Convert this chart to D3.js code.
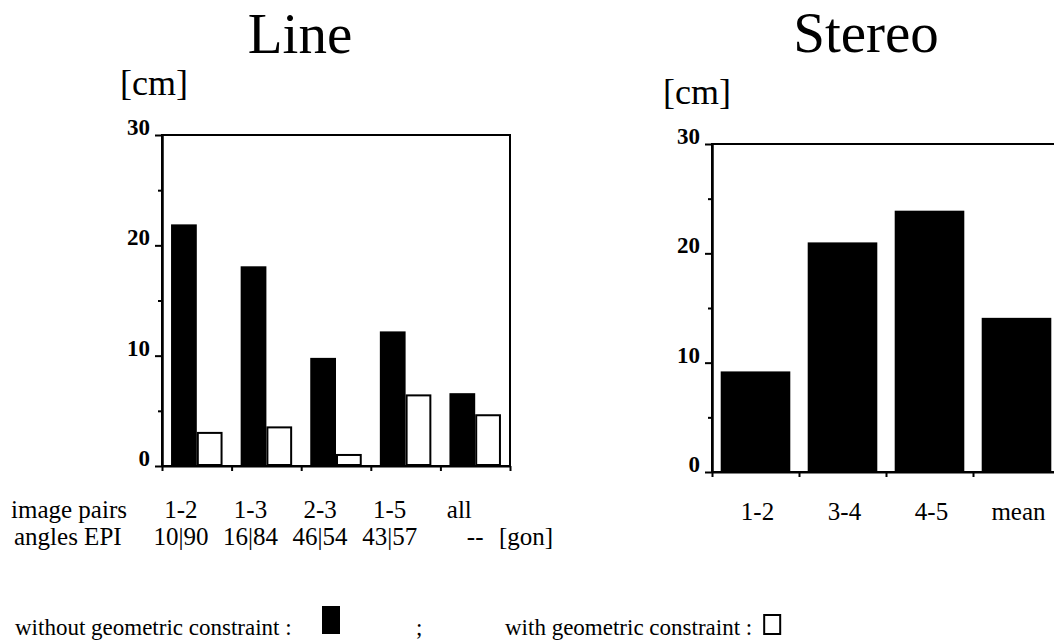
<!DOCTYPE html>
<html>
<head>
<meta charset="utf-8">
<script src="https://cdn.jsdelivr.net/npm/d3@7"></script>
<style>
  body { margin: 0; background: #fff; }
  svg { display: block; font-family: "Liberation Serif", "Times New Roman", serif; }
  .axis path, .axis line { stroke: #000; stroke-width: 2; }
  .axis text { font-family: "Liberation Serif", "Times New Roman", serif; font-weight: bold; font-size: 23px; fill: #000; }
  .lbl { font-size: 25px; fill: #000; }
</style>
</head>
<body>
<div id="chart"></div>
<script>
// values
var linePairs = ['1-2', '1-3', '2-3', '1-5', 'all'];
var lineAngles = ['10|90', '16|84', '46|54', '43|57', '--'];
var lineWithout = [21.9, 18.1, 9.8, 12.2, 6.6]; // black bars
var lineWith = [3.0, 3.5, 1.0, 6.4, 4.6]; // white bars
var stereoPairs = ['1-2', '3-4', '4-5', 'mean'];
var stereoWithout = [9.2, 21.0, 23.9, 14.1];
var yTicks = [0, 10, 20, 30];
var yMinor = [5, 15, 25];

var W = 1054, H = 644;

var svg = d3.select('#chart').append('svg')
  .attr('width', W)
  .attr('height', H);

function translation(x, y) {
  return 'translate(' + x + ',' + y + ')';
}

// draws the y axis (major + minor ticks) for a chart at position x
function drawYAxis(y, x) {
  svg.append('g')
    .attr('class', 'axis')
    .attr('font-family', null)
    .attr('transform', translation(x, 0))
    .call(d3.axisLeft(y).tickValues(yTicks).tickSize(7).tickPadding(5).tickSizeOuter(0))
    .selectAll('text').attr('dy', '-0.02em');
  svg.append('g')
    .attr('class', 'axis')
    .attr('transform', translation(x, 0))
    .call(d3.axisLeft(y).tickValues(yMinor).tickSize(4).tickFormat('').tickSizeOuter(0));
}

// ---------- Line ----------
var lineX = d3.scaleBand().domain(linePairs).range([162, 510]).paddingInner(0.26).paddingOuter(0.13);
var lineSub = d3.scaleBand().domain(['without', 'with']).range([0, lineX.bandwidth()]);
var lineY = d3.scaleLinear().domain([0, 30]).range([466, 135]);
var lineEdges = d3.scaleLinear().domain([0, linePairs.length]).range(lineX.range());
// the typed labels in the figure sit under the black bar of each pair
var underBlack = function (k) { return lineX(k) + lineSub('without') + lineSub.bandwidth() / 2 - 3; };

svg.append('text').attr('x', 300).attr('y', 53).attr('text-anchor', 'middle')
  .style('font-size', '57px').text('Line');
svg.append('text').attr('x', 120).attr('y', 95).style('font-size', '36px').text('[cm]');

// black bars
svg.append('g').selectAll('rect')
  .data(lineWithout)
  .enter().append('rect')
  .attr('x', function (d, i) { return lineX(linePairs[i]) + lineSub('without'); })
  .attr('y', function (d) { return lineY(d); })
  .attr('width', lineSub.bandwidth())
  .attr('height', function (d) { return lineY(0) - lineY(d); })
  .attr('fill', '#000');

// white bars
svg.append('g').selectAll('rect')
  .data(lineWith)
  .enter().append('rect')
  .attr('x', function (d, i) { return lineX(linePairs[i]) + lineSub('with') + 1; })
  .attr('y', function (d) { return lineY(d); })
  .attr('width', lineSub.bandwidth() - 2)
  .attr('height', function (d) { return lineY(0) - lineY(d) - 1; })
  .attr('fill', '#fff')
  .attr('stroke', '#000')
  .attr('stroke-width', 2);

// frame
svg.append('rect')
  .attr('x', lineX.range()[0]).attr('y', lineY(30))
  .attr('width', lineX.range()[1] - lineX.range()[0])
  .attr('height', lineY(0) - lineY(30))
  .attr('fill', 'none').attr('stroke', '#000').attr('stroke-width', 2);

drawYAxis(lineY, lineX.range()[0]);

svg.append('g')
  .attr('class', 'axis')
  .attr('transform', translation(0, lineY(0)))
  .call(d3.axisBottom(lineEdges).ticks(linePairs.length).tickSize(5).tickFormat('').tickSizeOuter(0));

// category rows
svg.append('text').attr('class', 'lbl').attr('x', 11).attr('y', 518).text('image pairs');
svg.append('text').attr('class', 'lbl').attr('x', 14).attr('y', 545).text('angles EPI');

svg.append('g').selectAll('text')
  .data(linePairs)
  .enter().append('text')
  .attr('class', 'lbl')
  .attr('x', function (d) { return underBlack(d); })
  .attr('y', 518)
  .attr('text-anchor', 'middle')
  .text(function (d) { return d; });

// the last angle entry ("--") sits right of "all" in the figure
svg.append('g').selectAll('text')
  .data(lineAngles)
  .enter().append('text')
  .attr('class', 'lbl')
  .attr('x', function (d, i) {
    var k = linePairs[i];
    return i === lineAngles.length - 1 ? lineX(k) + lineX.bandwidth() / 2 : underBlack(k);
  })
  .attr('y', 545)
  .attr('text-anchor', 'middle')
  .text(function (d) { return d; });

svg.append('text').attr('class', 'lbl').attr('x', 499).attr('y', 545).text('[gon]');

// ---------- Stereo ----------
var stereoX = d3.scaleBand().domain(stereoPairs).range([712, 1060]).paddingInner(0.2).paddingOuter(0.1);
var stereoY = d3.scaleLinear().domain([0, 30]).range([472, 144]);
var stereoEdges = d3.scaleLinear().domain([0, stereoPairs.length]).range(stereoX.range());

svg.append('text').attr('x', 866).attr('y', 52).attr('text-anchor', 'middle')
  .style('font-size', '57px').text('Stereo');
svg.append('text').attr('x', 663).attr('y', 104).style('font-size', '36px').text('[cm]');

svg.append('g').selectAll('rect')
  .data(stereoWithout)
  .enter().append('rect')
  .attr('x', function (d, i) { return stereoX(stereoPairs[i]); })
  .attr('y', function (d) { return stereoY(d); })
  .attr('width', stereoX.bandwidth())
  .attr('height', function (d) { return stereoY(0) - stereoY(d); })
  .attr('fill', '#000');

svg.append('rect')
  .attr('x', stereoX.range()[0]).attr('y', stereoY(30))
  .attr('width', stereoX.range()[1] - stereoX.range()[0])
  .attr('height', stereoY(0) - stereoY(30))
  .attr('fill', 'none').attr('stroke', '#000').attr('stroke-width', 2);

drawYAxis(stereoY, stereoX.range()[0]);

svg.append('g')
  .attr('class', 'axis')
  .attr('transform', translation(0, stereoY(0)))
  .call(d3.axisBottom(stereoEdges).ticks(stereoPairs.length).tickSize(5).tickFormat('').tickSizeOuter(0));

svg.append('g').selectAll('text')
  .data(stereoPairs)
  .enter().append('text')
  .attr('class', 'lbl')
  .attr('x', function (d) { return stereoX(d) + stereoX.bandwidth() / 2 + 2; })
  .attr('y', 520)
  .attr('text-anchor', 'middle')
  .text(function (d) { return d; });

// ---------- legend ----------
var legY = 635;
svg.append('text').attr('class', 'lbl').style('font-size', '23px')
  .attr('x', 15).attr('y', legY).text('without geometric constraint :');
svg.append('rect').attr('x', 322).attr('y', 606).attr('width', 18).attr('height', 28).attr('fill', '#000');
svg.append('text').attr('class', 'lbl').style('font-size', '23px')
  .attr('x', 416).attr('y', legY).text(';');
var withText = svg.append('text').attr('class', 'lbl').style('font-size', '23px')
  .attr('x', 505).attr('y', legY).text('with geometric constraint :');
var withEnd = 505 + withText.node().getComputedTextLength();
svg.append('rect').attr('x', withEnd + 12).attr('y', 615).attr('width', 16).attr('height', 19)
  .attr('fill', '#fff').attr('stroke', '#000').attr('stroke-width', 2);
</script>
</body>
</html>
